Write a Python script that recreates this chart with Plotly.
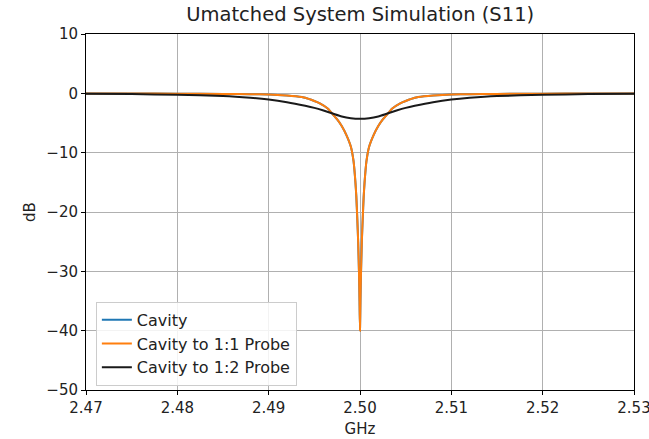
import plotly.graph_objects as go

# offsets from resonance (GHz); curves are symmetric about 2.50 GHz
center_ghz = 2.50
probe11_offsets = [0.0, 0.00005, 0.0001, 0.0002, 0.0003, 0.0004, 0.0005, 0.0007, 0.001,
                   0.0015, 0.002, 0.0025, 0.003, 0.0035, 0.0044, 0.005, 0.006, 0.007,
                   0.008, 0.010, 0.012, 0.015, 0.020, 0.025, 0.030]
probe11_db = [-40.0, -35.0, -31.0, -25.0, -21.0, -17.5, -15.0, -11.5, -9.0,
              -7.0, -5.5, -4.4, -3.5, -2.6, -1.7, -1.3, -0.75, -0.5,
              -0.35, -0.2, -0.15, -0.1, -0.06, -0.04, -0.03]
cavity_offsets = probe11_offsets
cavity_db = probe11_db
probe12_offsets = [0.0, 0.001, 0.002, 0.003, 0.004, 0.005, 0.006, 0.008, 0.010,
                   0.012, 0.015, 0.020, 0.025, 0.030]
probe12_db = [-4.3, -4.2, -3.9, -3.4, -2.9, -2.45, -2.1, -1.5, -1.05,
              -0.75, -0.45, -0.25, -0.12, -0.06]

series_names = ["Cavity", "Cavity to 1:1 Probe", "Cavity to 1:2 Probe"]
x_ticks = [2.47, 2.48, 2.49, 2.50, 2.51, 2.52, 2.53]
y_ticks = [10, 0, -10, -20, -30, -40, -50]


def mirror(offsets, vals):
    xs = [center_ghz - o for o in reversed(offsets[1:])] + [center_ghz + o for o in offsets]
    ys = list(reversed(vals[1:])) + list(vals)
    return xs, ys


fig = go.Figure()
colors = ["#1f77b4", "#ff7f0e", "#1a1a1a"]
for name, (offs, vals), col in zip(series_names,
                                   [(cavity_offsets, cavity_db), (probe11_offsets, probe11_db),
                                    (probe12_offsets, probe12_db)], colors):
    xs, ys = mirror(offs, vals)
    fig.add_trace(go.Scatter(x=xs, y=ys, mode="lines", name=name,
                             line=dict(color=col, width=2, shape="spline", smoothing=0.5)))

axis_common = dict(showline=True, linecolor="black", linewidth=1, mirror=True,
                   ticks="outside", ticklen=4, tickcolor="black",
                   showgrid=True, gridcolor="#b0b0b0", gridwidth=1, zeroline=False,
                   automargin=False, ticklabeloverflow="allow",
                   tickfont=dict(size=15, color="#222222"))
fig.update_xaxes(range=[2.47, 2.53], tickvals=x_ticks, tickformat=".2f",
                 title=dict(text="GHz", font=dict(size=15, color="#222222"), standoff=7),
                 **axis_common)
fig.update_yaxes(range=[-50, 10], tickvals=y_ticks,
                 title=dict(text="dB", font=dict(size=15, color="#222222"), standoff=7),
                 **axis_common)
fig.update_layout(
    width=649, height=439,
    margin=dict(l=86, r=15, t=34, b=49),
    paper_bgcolor="white", plot_bgcolor="white",
    font=dict(family="DejaVu Sans", color="#222222"),
    title=dict(text="Umatched System Simulation (S11)", x=0.555, xanchor="center",
               y=0.968, yanchor="middle", font=dict(size=19.5, color="#222222")),
    legend=dict(x=0.018, y=0.012, xanchor="left", yanchor="bottom",
                bgcolor="rgba(255,255,255,0.85)", bordercolor="#cccccc", borderwidth=1,
                font=dict(size=16, color="#222222"), traceorder="normal"),
    showlegend=True,
)
fig.write_html("out.html")
